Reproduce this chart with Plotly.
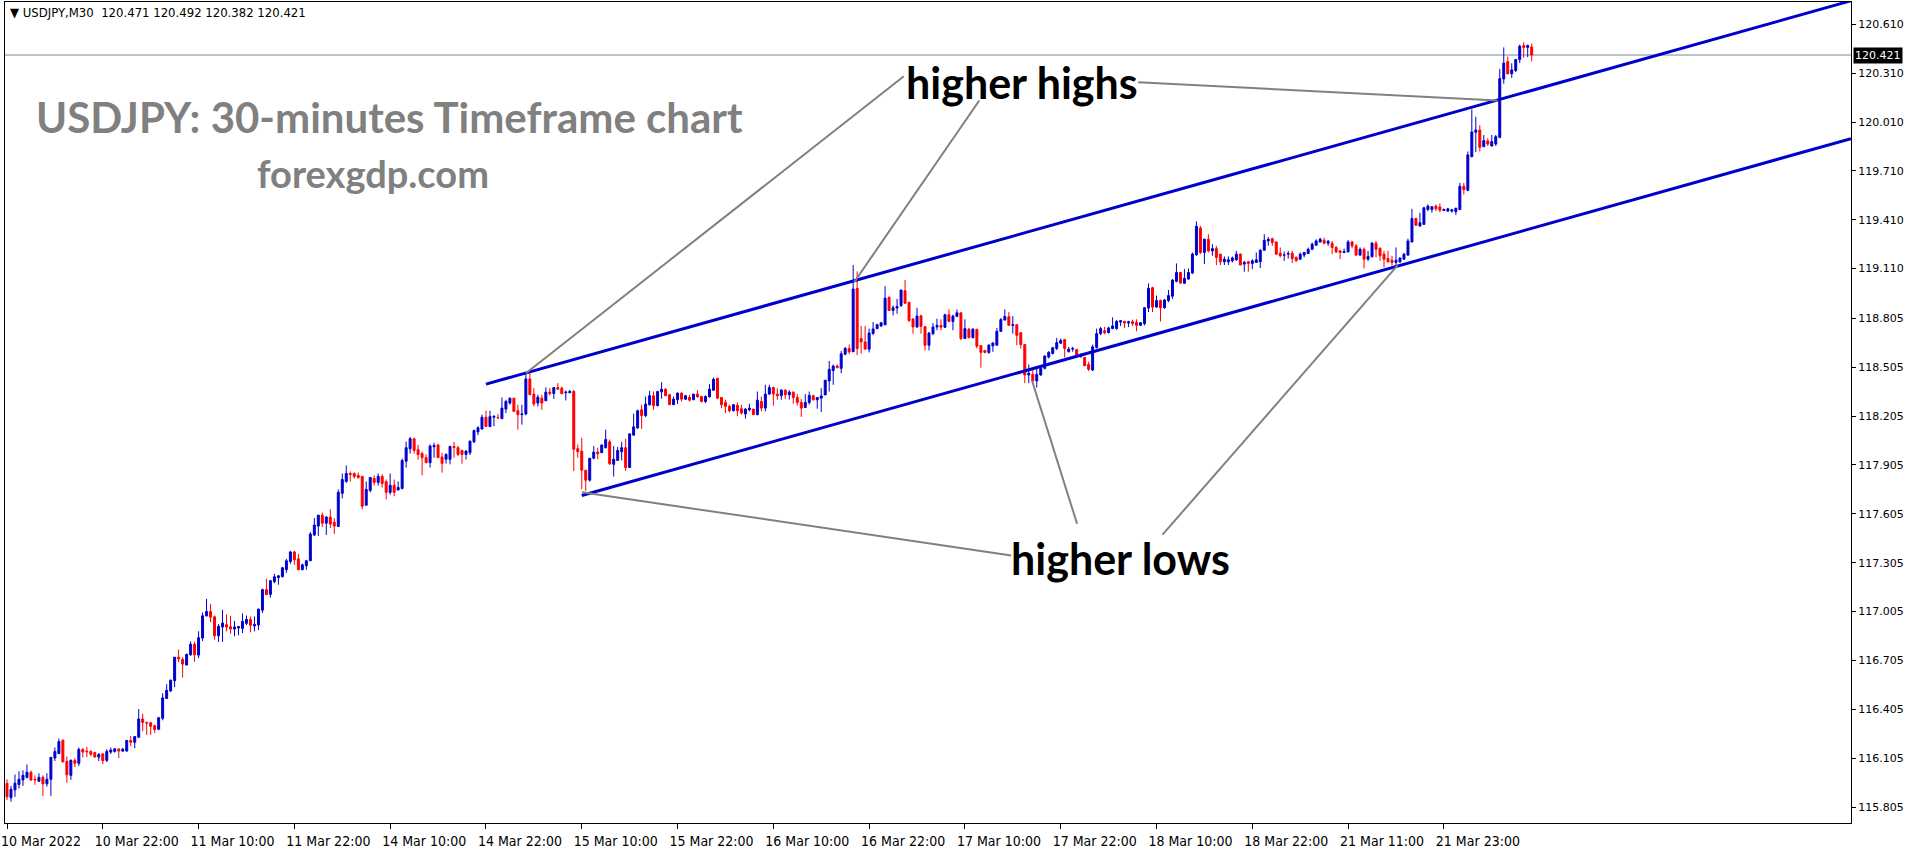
import plotly.graph_objects as go

# ---------------- data (USDJPY M30) ----------------
opens = [115.951,115.862,115.911,115.944,115.972,115.988,116.019,115.976,115.964,115.988,
115.948,115.976,116.106,116.134,116.216,116.086,116.000,116.092,116.074,116.159,
116.149,116.147,116.141,116.112,116.132,116.092,116.143,116.147,116.161,116.149,
116.149,116.214,116.203,116.234,116.346,116.325,116.323,116.305,116.283,116.350,
116.472,116.518,116.581,116.725,116.711,116.677,116.740,116.805,116.738,116.843,
116.979,117.006,116.973,116.857,116.910,116.925,116.912,116.898,116.904,116.902,
116.933,116.957,116.917,116.923,117.014,117.140,117.111,117.189,117.213,117.219,
117.262,117.312,117.371,117.329,117.262,117.286,117.317,117.475,117.530,117.597,
117.548,117.585,117.554,117.528,117.731,117.804,117.853,117.853,117.841,117.835,
117.658,117.749,117.822,117.798,117.835,117.802,117.737,117.780,117.751,117.761,
117.928,118.005,118.066,117.999,117.975,117.950,117.919,118.017,118.027,117.954,
117.940,117.940,118.019,118.011,117.994,117.970,117.980,118.047,118.108,118.126,
118.198,118.141,118.198,118.195,118.189,118.248,118.285,118.315,118.238,118.214,
118.218,118.433,118.340,118.285,118.315,118.299,118.352,118.344,118.380,118.376,
118.348,118.348,118.356,118.005,117.990,117.873,117.812,117.946,117.984,117.980,
118.011,118.047,117.909,117.933,117.986,118.011,117.889,118.088,118.133,118.244,
118.208,118.275,118.330,118.269,118.354,118.370,118.336,118.275,118.305,118.346,
118.309,118.319,118.305,118.340,118.325,118.295,118.323,118.364,118.437,118.319,
118.289,118.265,118.238,118.271,118.250,118.218,118.244,118.248,118.214,118.295,
118.254,118.340,118.380,118.340,118.330,118.364,118.336,118.352,118.319,118.289,
118.258,118.289,118.330,118.305,118.315,118.335,118.421,118.484,118.512,118.498,
118.585,118.620,118.600,118.989,118.681,118.660,118.616,118.713,118.742,118.758,
118.766,118.933,118.853,118.868,118.884,118.975,118.904,118.801,118.752,118.821,
118.754,118.640,118.711,118.752,118.762,118.750,118.827,118.786,118.817,118.839,
118.681,118.738,118.687,118.738,118.638,118.608,118.596,118.636,118.640,118.725,
118.795,118.815,118.762,118.766,118.717,118.644,118.457,118.461,118.421,118.457,
118.498,118.567,118.589,118.620,118.652,118.675,118.600,118.616,118.614,118.569,
118.565,118.522,118.488,118.626,118.711,118.729,118.717,118.742,118.742,118.782,
118.786,118.776,118.784,118.780,118.762,118.772,118.868,118.993,118.874,118.914,
118.870,118.914,118.941,119.032,119.087,119.020,119.046,119.083,119.195,119.360,
119.209,119.290,119.219,119.233,119.199,119.152,119.152,119.158,119.164,119.199,
119.138,119.152,119.142,119.148,119.152,119.223,119.280,119.294,119.274,119.205,
119.193,119.199,119.205,119.179,119.168,119.193,119.203,119.229,119.254,119.274,
119.284,119.266,119.266,119.240,119.219,119.209,119.213,119.274,119.250,119.193,
119.229,119.168,119.183,119.266,119.235,119.199,119.172,119.162,119.148,119.152,
119.168,119.193,119.274,119.418,119.372,119.382,119.473,119.473,119.494,119.488,
119.467,119.463,119.463,119.459,119.473,119.615,119.591,119.798,119.947,119.961,
119.859,119.894,119.863,119.875,119.916,120.274,120.381,120.306,120.326,120.393,
120.479,120.468,120.471]

highs = [115.976,115.935,116.005,116.025,116.031,116.067,116.029,116.000,116.013,116.000,
116.013,116.114,116.171,116.226,116.220,116.116,116.098,116.104,116.171,116.167,
116.175,116.153,116.141,116.137,116.132,116.161,116.171,116.167,116.167,116.169,
116.218,116.242,116.238,116.407,116.378,116.329,116.325,116.311,116.354,116.504,
116.559,116.589,116.725,116.772,116.725,116.748,116.823,116.821,116.884,117.000,
117.083,117.052,116.981,116.929,117.016,116.987,116.979,116.947,116.915,116.994,
116.981,116.975,116.975,117.024,117.146,117.207,117.199,117.237,117.229,117.280,
117.329,117.378,117.378,117.359,117.300,117.323,117.493,117.579,117.597,117.613,
117.591,117.633,117.579,117.755,117.853,117.902,117.865,117.859,117.859,117.835,
117.804,117.828,117.841,117.853,117.847,117.816,117.853,117.816,117.804,117.944,
118.048,118.078,118.072,118.029,117.987,117.970,118.031,118.041,118.035,117.980,
117.976,118.023,118.047,118.021,117.998,117.996,118.055,118.122,118.143,118.214,
118.238,118.238,118.208,118.218,118.319,118.305,118.319,118.315,118.275,118.275,
118.468,118.468,118.376,118.336,118.336,118.382,118.376,118.380,118.407,118.386,
118.362,118.366,118.366,118.031,118.072,117.873,117.946,118.021,118.011,118.031,
118.122,118.061,118.021,118.015,118.047,118.065,118.096,118.220,118.244,118.275,
118.325,118.360,118.356,118.360,118.413,118.376,118.340,118.325,118.350,118.350,
118.336,118.336,118.340,118.364,118.330,118.332,118.401,118.441,118.437,118.319,
118.305,118.275,118.279,118.289,118.275,118.254,118.281,118.248,118.356,118.325,
118.397,118.397,118.386,118.376,118.370,118.370,118.364,118.356,118.340,118.309,
118.340,118.356,118.336,118.321,118.376,118.425,118.543,118.522,118.522,118.604,
118.630,118.644,119.132,119.093,118.758,118.758,118.742,118.782,118.772,118.782,
119.002,118.941,118.884,118.924,118.979,119.040,118.904,118.807,118.870,118.827,
118.754,118.721,118.776,118.803,118.799,118.833,118.860,118.827,118.860,118.839,
118.799,118.746,118.746,118.738,118.638,118.608,118.648,118.658,118.746,118.807,
118.860,118.843,118.819,118.770,118.721,118.644,118.522,118.498,118.498,118.514,
118.579,118.604,118.630,118.685,118.681,118.675,118.630,118.630,118.614,118.589,
118.565,118.539,118.644,118.742,118.752,118.752,118.754,118.811,118.795,118.795,
118.790,118.790,118.797,118.799,118.782,118.874,119.020,118.999,118.945,118.920,
118.924,118.979,119.046,119.142,119.087,119.107,119.111,119.209,119.400,119.372,
119.294,119.321,119.260,119.250,119.199,119.185,119.185,119.185,119.219,119.203,
119.158,119.158,119.168,119.209,119.229,119.321,119.304,119.300,119.274,119.240,
119.215,119.219,119.219,119.185,119.209,119.213,119.240,119.270,119.290,119.300,
119.300,119.286,119.280,119.250,119.225,119.233,119.286,119.280,119.260,119.240,
119.240,119.219,119.274,119.280,119.240,119.219,119.219,119.189,119.240,119.179,
119.205,119.294,119.477,119.422,119.453,119.490,119.504,119.494,119.504,119.510,
119.479,119.483,119.475,119.483,119.636,119.636,119.829,120.087,120.042,119.991,
119.930,119.910,119.930,119.930,120.336,120.468,120.412,120.371,120.397,120.485,
120.499,120.485,120.492]

lows = [115.848,115.838,115.868,115.919,115.935,115.980,115.966,115.942,115.960,115.874,
115.931,115.874,116.088,116.130,116.082,115.954,115.972,116.051,116.057,116.110,
116.112,116.118,116.112,116.088,116.069,116.082,116.132,116.139,116.106,116.143,
116.147,116.179,116.167,116.230,116.271,116.248,116.248,116.260,116.277,116.338,
116.468,116.512,116.541,116.695,116.600,116.675,116.734,116.697,116.719,116.825,
116.975,116.941,116.833,116.819,116.819,116.884,116.870,116.854,116.860,116.874,
116.923,116.878,116.884,116.892,116.996,117.109,117.091,117.179,117.170,117.215,
117.243,117.298,117.292,117.262,117.262,117.262,117.317,117.469,117.469,117.524,
117.475,117.518,117.481,117.524,117.700,117.796,117.804,117.822,117.822,117.633,
117.658,117.737,117.780,117.778,117.767,117.694,117.723,117.713,117.751,117.755,
117.889,117.975,117.975,117.938,117.841,117.919,117.889,117.950,117.950,117.858,
117.913,117.909,117.950,117.960,117.913,117.938,117.966,118.039,118.088,118.122,
118.141,118.137,118.143,118.187,118.189,118.224,118.275,118.234,118.122,118.153,
118.210,118.336,118.265,118.265,118.244,118.299,118.332,118.311,118.370,118.342,
118.301,118.348,117.868,117.950,117.757,117.747,117.803,117.940,117.940,117.980,
118.007,117.905,117.834,117.933,117.933,117.868,117.889,118.088,118.126,118.126,
118.198,118.269,118.244,118.265,118.311,118.330,118.273,118.273,118.279,118.295,
118.305,118.295,118.305,118.319,118.289,118.285,118.319,118.360,118.309,118.254,
118.224,118.228,118.234,118.204,118.214,118.189,118.234,118.214,118.210,118.234,
118.234,118.336,118.269,118.305,118.305,118.309,118.307,118.281,118.269,118.200,
118.254,118.275,118.301,118.250,118.230,118.335,118.356,118.397,118.498,118.468,
118.579,118.585,118.600,118.579,118.589,118.616,118.596,118.701,118.738,118.752,
118.762,118.853,118.823,118.833,118.874,118.894,118.782,118.711,118.746,118.711,
118.608,118.608,118.701,118.732,118.732,118.746,118.782,118.732,118.813,118.671,
118.681,118.681,118.681,118.620,118.502,118.590,118.587,118.600,118.640,118.721,
118.790,118.762,118.711,118.640,118.620,118.407,118.407,118.413,118.380,118.453,
118.492,118.559,118.583,118.610,118.652,118.565,118.596,118.600,118.569,118.565,
118.514,118.482,118.482,118.620,118.701,118.707,118.713,118.738,118.736,118.758,
118.746,118.752,118.758,118.725,118.758,118.762,118.843,118.843,118.870,118.786,
118.864,118.904,118.924,119.026,119.016,119.016,119.042,119.077,119.189,119.200,
119.138,119.209,119.189,119.132,119.132,119.132,119.132,119.148,119.158,119.132,
119.091,119.091,119.107,119.148,119.114,119.219,119.250,119.250,119.193,119.179,
119.158,119.172,119.144,119.154,119.164,119.179,119.199,119.223,119.250,119.270,
119.260,119.250,119.199,119.205,119.168,119.205,119.209,119.235,119.189,119.189,
119.112,119.158,119.179,119.179,119.158,119.118,119.148,119.128,119.128,119.144,
119.164,119.189,119.270,119.372,119.368,119.378,119.463,119.453,119.463,119.457,
119.463,119.459,119.453,119.439,119.469,119.565,119.585,119.792,119.825,119.829,
119.855,119.863,119.859,119.863,119.910,120.245,120.302,120.280,120.316,120.371,
120.404,120.408,120.382]

closes = [115.868,115.915,115.952,115.976,116.000,116.019,115.972,115.972,115.988,115.948,
115.976,116.110,116.147,116.208,116.082,116.003,116.092,116.074,116.159,116.143,
116.145,116.130,116.112,116.128,116.090,116.147,116.155,116.163,116.149,116.161,
116.214,116.203,116.238,116.346,116.325,116.321,116.301,116.281,116.354,116.476,
116.522,116.583,116.725,116.715,116.683,116.742,116.805,116.740,116.845,116.979,
117.006,116.971,116.857,116.914,116.935,116.910,116.898,116.911,116.913,116.945,
116.957,116.921,116.927,117.020,117.140,117.109,117.195,117.219,117.225,117.274,
117.317,117.371,117.323,117.262,117.292,117.317,117.481,117.536,117.597,117.548,
117.585,117.542,117.530,117.737,117.816,117.853,117.847,117.835,117.828,117.652,
117.755,117.828,117.798,117.835,117.792,117.737,117.780,117.737,117.767,117.932,
118.011,118.066,117.995,117.969,117.950,117.919,118.021,118.025,117.950,117.915,
117.970,118.019,118.011,117.970,117.970,117.990,118.051,118.116,118.133,118.198,
118.141,118.202,118.204,118.195,118.254,118.295,118.315,118.234,118.214,118.218,
118.433,118.336,118.279,118.321,118.285,118.352,118.344,118.380,118.370,118.342,
118.352,118.356,118.001,117.986,117.873,117.812,117.946,117.984,117.974,118.027,
118.061,117.913,117.940,117.994,118.011,117.889,118.096,118.139,118.238,118.208,
118.279,118.330,118.269,118.356,118.370,118.330,118.275,118.309,118.346,118.309,
118.330,118.303,118.340,118.323,118.295,118.325,118.370,118.431,118.315,118.275,
118.265,118.238,118.275,118.238,118.224,118.248,118.254,118.214,118.303,118.254,
118.340,118.380,118.340,118.330,118.364,118.336,118.352,118.319,118.289,118.254,
118.289,118.332,118.305,118.319,118.329,118.425,118.492,118.512,118.502,118.587,
118.620,118.600,118.985,118.620,118.660,118.616,118.715,118.740,118.766,118.778,
118.929,118.853,118.870,118.878,118.979,118.898,118.792,118.752,118.819,118.756,
118.640,118.715,118.752,118.762,118.750,118.827,118.786,118.819,118.839,118.681,
118.742,118.687,118.738,118.634,118.596,118.596,118.640,118.654,118.725,118.797,
118.817,118.762,118.766,118.701,118.644,118.457,118.468,118.421,118.461,118.498,
118.573,118.596,118.624,118.656,118.669,118.620,118.616,118.620,118.569,118.583,
118.514,118.492,118.630,118.711,118.742,118.717,118.746,118.758,118.786,118.790,
118.776,118.784,118.774,118.762,118.778,118.870,118.989,118.874,118.914,118.870,
118.918,118.945,119.040,119.087,119.022,119.050,119.087,119.199,119.370,119.209,
119.290,119.219,119.233,119.179,119.152,119.168,119.164,119.175,119.199,119.132,
119.148,119.142,119.158,119.164,119.223,119.284,119.290,119.270,119.199,119.189,
119.193,119.203,119.172,119.158,119.199,119.209,119.229,119.260,119.280,119.290,
119.266,119.278,119.240,119.213,119.209,119.215,119.274,119.250,119.193,119.229,
119.168,119.185,119.266,119.229,119.189,119.168,119.152,119.148,119.162,119.175,
119.199,119.280,119.418,119.376,119.392,119.483,119.494,119.490,119.477,119.469,
119.473,119.477,119.471,119.481,119.615,119.595,119.808,119.949,119.961,119.855,
119.896,119.875,119.890,119.920,120.276,120.371,120.306,120.330,120.393,120.475,
120.468,120.479,120.421]

date_labels = ["10 Mar 2022", "10 Mar 22:00", "11 Mar 10:00", "11 Mar 22:00",
               "14 Mar 10:00", "14 Mar 22:00", "15 Mar 10:00", "15 Mar 22:00",
               "16 Mar 10:00", "16 Mar 22:00", "17 Mar 10:00", "17 Mar 22:00",
               "18 Mar 10:00", "18 Mar 22:00", "21 Mar 11:00", "21 Mar 23:00"]
date_label_bars = [0, 24, 48, 72, 96, 120, 144, 168, 192, 216, 240, 264, 288, 312, 336, 360]

price_labels = ["120.610", "120.310", "120.010", "119.710", "119.410", "119.110",
                "118.805", "118.505", "118.205", "117.905", "117.605", "117.305",
                "117.005", "116.705", "116.405", "116.105", "115.805"]

# channel trendlines: (bar index, price)
upper_channel_bars = [120, 462]
upper_channel_prices = [118.401, 120.754]
lower_channel_bars = [144, 462]
lower_channel_prices = [117.718, 119.908]

# pointer lines from the labels to the swing points: (bar, price) -> (bar, price)
higher_high_pointers = [((224.7, 120.291), (130.0, 118.468)),
                        ((243.6, 120.142), (212.2, 119.025)),
                        ((283.4, 120.254), (373.4, 120.142))]
higher_low_pointers = [((251.6, 117.350), (144.05, 117.737)),
                       ((268.1, 117.544), (256.8, 118.423)),
                       ((289.5, 117.477), (348.4, 119.130))]

symbol = "USDJPY,M30"

# ---------------- figure ----------------
W, H = 1916, 850
ML, MR, MT, MB = 1, 65, 1, 22
PW, PH = W - ML - MR, H - MT - MB


def px(xpix):
    return (xpix - ML) / PW


def py(ypix):
    return 1 - (ypix - MT) / PH


bars = list(range(len(closes)))
BLUE = "#0000CD"
RED = "#FF0000"

fig = go.Figure()
fig.add_trace(go.Candlestick(
    x=bars, open=opens, high=highs, low=lows, close=closes,
    increasing=dict(line=dict(color=BLUE, width=1), fillcolor=BLUE),
    decreasing=dict(line=dict(color=RED, width=1), fillcolor=RED),
    whiskerwidth=0, hoverinfo="skip", showlegend=False))

for bx, pr in ((upper_channel_bars, upper_channel_prices),
               (lower_channel_bars, lower_channel_prices)):
    fig.add_trace(go.Scatter(x=bx, y=pr, mode="lines",
                             line=dict(color=BLUE, width=3),
                             hoverinfo="skip", showlegend=False))

for (a, b) in higher_high_pointers + higher_low_pointers:
    fig.add_trace(go.Scatter(x=[a[0], b[0]], y=[a[1], b[1]], mode="lines",
                             line=dict(color="#808080", width=2),
                             hoverinfo="skip", showlegend=False))

last = closes[-1]
fig.add_shape(type="line", xref="paper", x0=0, x1=1, yref="y", y0=last, y1=last,
              line=dict(color="#778899", width=1), layer="below")

fig.add_annotation(xref="paper", x=1, xanchor="left", xshift=2, yref="y", y=last,
                   text=f"{last:.3f}", showarrow=False, bgcolor="black",
                   font=dict(family="DejaVu Sans", size=11, color="white"), borderpad=1)

header = f"\u25bc {symbol}\u00a0\u00a0{opens[-1]:.3f} {highs[-1]:.3f} {lows[-1]:.3f} {closes[-1]:.3f}"
fig.add_annotation(xref="paper", yref="paper", x=px(4), y=py(12), xanchor="left", yanchor="middle",
                   text=header, showarrow=False,
                   font=dict(family="Liberation Sans Narrow, Arial Narrow, DejaVu Sans Condensed", size=13, color="black"))

fig.add_annotation(xref="paper", yref="paper", x=px(386), y=py(117), xanchor="center", yanchor="middle",
                   text="USDJPY: 30-minutes Timeframe chart", showarrow=False,
                   font=dict(family="Lato", size=42, color="#808080", weight="bold"))
fig.add_annotation(xref="paper", yref="paper", x=px(370), y=py(173), xanchor="center", yanchor="middle",
                   text="forexgdp.com", showarrow=False,
                   font=dict(family="Lato", size=38, color="#808080", weight="bold"))
fig.add_annotation(xref="paper", yref="paper", x=px(1020), y=py(82), xanchor="center", yanchor="middle",
                   text="higher highs", showarrow=False,
                   font=dict(family="Lato", size=43, color="black", weight="bold"))
fig.add_annotation(xref="paper", yref="paper", x=px(1119), y=py(562), xanchor="center", yanchor="middle",
                   text="higher lows", showarrow=False,
                   font=dict(family="Lato", size=43, color="black", weight="bold"))

fig.update_layout(
    width=W, height=H, margin=dict(l=ML, r=MR, t=MT, b=MB),
    paper_bgcolor="white", plot_bgcolor="white", showlegend=False,
    xaxis=dict(range=[-0.5, -0.5 + PW / 4], type="linear", rangeslider=dict(visible=False),
               showgrid=False, zeroline=False, showline=True, linecolor="black", linewidth=1,
               mirror=True, tickmode="array", tickvals=date_label_bars, ticktext=date_labels,
               ticks="outside", ticklen=5, tickcolor="black", ticklabelshift=34,
               ticklabeloverflow="allow",
               tickfont=dict(family="Liberation Sans Narrow, Arial Narrow, DejaVu Sans Condensed",
                             size=14, color="black"),
               fixedrange=True),
    yaxis=dict(side="right", range=[115.7076, 120.7465], showgrid=False, zeroline=False,
               showline=True, linecolor="black", linewidth=1, mirror=True,
               tickmode="array", tickvals=[float(v) for v in price_labels], ticktext=price_labels,
               ticks="outside", ticklen=4, tickcolor="black",
               ticklabeloverflow="allow",
               tickfont=dict(family="DejaVu Sans", size=11, color="black"),
               fixedrange=True),
)

fig.write_html("out.html", config={"displayModeBar": False},
               post_script="document.body.style.margin='0px';document.body.style.overflow='hidden';")
